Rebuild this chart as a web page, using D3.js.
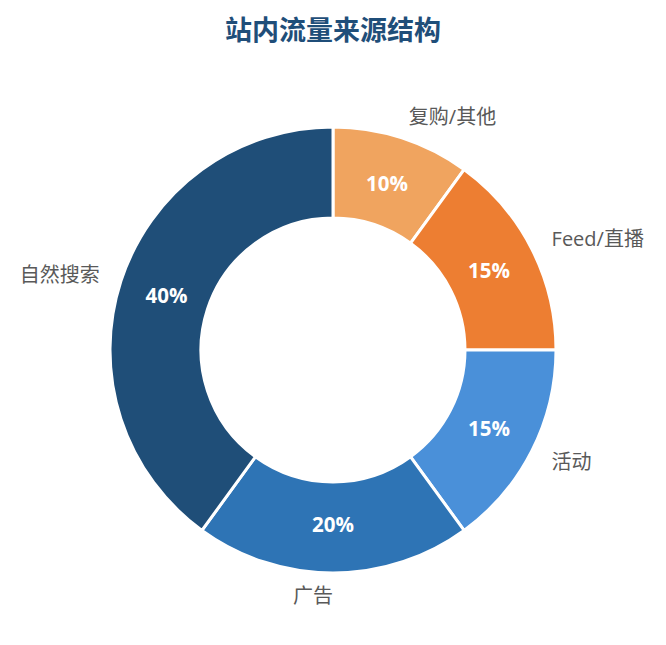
<!DOCTYPE html>
<html>
<head>
<meta charset="utf-8">
<script src="https://cdn.jsdelivr.net/npm/d3@7"></script>
<style>
  body { margin: 0; background: #fff; }
  text { font-family: "Open Sans", "Noto Sans CJK SC", sans-serif; }
</style>
</head>
<body>
<div id="chart"></div>
<script>
// Data, clockwise from 12 o'clock
const categories = ["复购/其他", "Feed/直播", "活动", "广告", "自然搜索"];
const shares = [10, 15, 15, 20, 40];
const colors = ["#f0a45f", "#ed7e32", "#4a90d9", "#2e74b5", "#1f4e78"];
const title = "站内流量来源结构";

const width = 666, height = 645;
const cx = 333, cy = 350;
const outerR = 223, innerR = 132;
const labelR = outerR * 1.1;
const pctR = 175;

const svg = d3.select("#chart").append("svg")
  .attr("width", width)
  .attr("height", height);

svg.append("text")
  .attr("x", cx)
  .attr("y", 28)
  .attr("text-anchor", "middle")
  .attr("dominant-baseline", "central")
  .style("font-family", "'Noto Sans CJK SC', sans-serif")
  .style("font-size", "27px")
  .style("font-weight", "bold")
  .style("fill", "#1f4e79")
  .text(title);

const data = categories.map((c, i) => ({ name: c, value: shares[i], color: colors[i] }));

const pie = d3.pie().sort(null).value(d => d.value);
const arcs = pie(data);

const arc = d3.arc().innerRadius(innerR).outerRadius(outerR);

const g = svg.append("g")
  .attr("transform", "translate(" + cx + "," + cy + ")");

g.selectAll(".slice")
  .data(arcs)
  .enter()
  .append("path")
  .attr("class", "slice")
  .attr("d", arc)
  .style("fill", d => d.data.color)
  .style("stroke", "#fff")
  .style("stroke-width", 3);

const total = d3.sum(shares);
const mid = d => (d.startAngle + d.endAngle) / 2;

// percentage labels inside ring
g.selectAll(".pct")
  .data(arcs)
  .enter()
  .append("text")
  .attr("class", "pct")
  .attr("x", d => pctR * Math.sin(mid(d)))
  .attr("y", d => -pctR * Math.cos(mid(d)) - 1)
  .attr("text-anchor", "middle")
  .attr("dominant-baseline", "central")
  .style("font-size", "20.5px")
  .style("font-weight", "bold")
  .style("fill", "#fff")
  .text(d => Math.round(d.data.value / total * 100) + "%");

// category labels outside
g.selectAll(".lbl")
  .data(arcs)
  .enter()
  .append("text")
  .attr("class", "lbl")
  .attr("x", d => labelR * Math.sin(mid(d)))
  .attr("y", d => -labelR * Math.cos(mid(d)))
  .attr("text-anchor", d => Math.sin(mid(d)) > 0.001 ? "start" : "end")
  .attr("dominant-baseline", "central")
  .style("font-size", "20px")
  .style("fill", "#595959")
  .text(d => d.data.name);
</script>
</body>
</html>
